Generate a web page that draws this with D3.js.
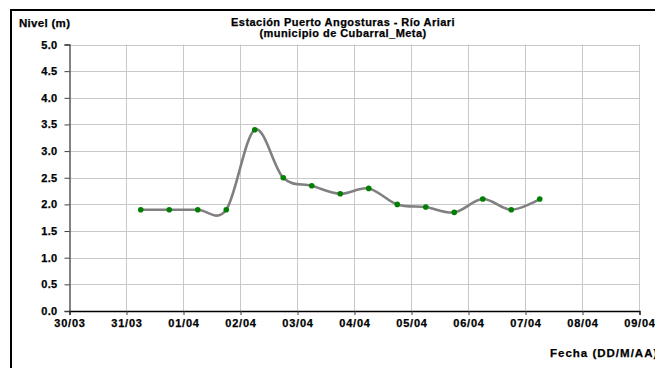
<!DOCTYPE html>
<html><head><meta charset="utf-8">
<script src="https://cdn.jsdelivr.net/npm/d3@7"></script>
<style>
html,body{margin:0;padding:0;background:#fff;overflow:hidden;}
svg{display:block;font-family:"Liberation Sans",Arial,sans-serif;font-weight:bold;}
svg text{stroke:#000;stroke-width:0.25px;}
</style></head><body>
<svg id="c" width="655" height="368"></svg>
<script>
const titleLines = ["Estación Puerto Angosturas - Río Ariari", "(municipio de Cubarral_Meta)"];
const yTitle = "Nivel (m)";
const xTitle = "Fecha (DD/M/AA)";
const xTickLabels = ["30/03","31/03","01/04","02/04","03/04","04/04","05/04","06/04","07/04","08/04","09/04"];
const yTicks = [0,0.5,1,1.5,2,2.5,3,3.5,4,4.5,5];
const times = ["2011-03-31 06:00","2011-03-31 18:00","2011-04-01 06:00","2011-04-01 18:00","2011-04-02 06:00","2011-04-02 18:00","2011-04-03 06:00","2011-04-03 18:00","2011-04-04 06:00","2011-04-04 18:00","2011-04-05 06:00","2011-04-05 18:00","2011-04-06 06:00","2011-04-06 18:00","2011-04-07 06:00"];
const levels = [1.9,1.9,1.9,1.9,3.4,2.5,2.35,2.2,2.3,2.0,1.95,1.85,2.1,1.9,2.1];
const xStart = "2011-03-30 00:00", xEnd = "2011-04-09 00:00";

const parse = d3.timeParse("%Y-%m-%d %H:%M");
const svg = d3.select("#c");
const L = 69.5, R = 639.5, T = 44.5, B = 311;
const x = d3.scaleTime().domain([parse(xStart), parse(xEnd)]).range([L, R]);
const y = d3.scaleLinear().domain([0,5]).range([B, T]);
const tickDates = d3.timeDay.range(parse(xStart), d3.timeDay.offset(parse(xEnd),1));

// outer frame
svg.append("rect").attr("x",11).attr("y",10).attr("width",700).attr("height",400)
  .attr("fill","none").attr("stroke","#000").attr("stroke-width",2);

// grid
const g = svg.append("g");
g.selectAll(".hg").data(yTicks.slice(1)).join("line")
  .attr("x1",L).attr("x2",R).attr("y1",d=>Math.round(y(d))+0.5).attr("y2",d=>Math.round(y(d))+0.5)
  .attr("stroke","#c8c8c8").attr("stroke-width",1);
g.selectAll(".vg").data(tickDates.slice(1)).join("line")
  .attr("x1",d=>x(d)).attr("x2",d=>x(d)).attr("y1",T).attr("y2",B)
  .attr("stroke","#c8c8c8").attr("stroke-width",1);

// y axis
const ya = svg.append("g").attr("transform",`translate(${L},0)`)
  .call(d3.axisLeft(y).tickValues(yTicks).tickFormat(d3.format(".1f")).tickSize(5).tickPadding(7));
ya.select(".domain").attr("stroke","#404040").attr("stroke-width",1.3);
ya.selectAll(".tick line").attr("stroke","#404040");
ya.selectAll("text").attr("font-size",11).attr("font-family","Liberation Sans, Arial").attr("font-weight","bold")
  .attr("letter-spacing","0.3px").attr("fill","#000");

// x axis
const xa = svg.append("g").attr("transform",`translate(0,${B})`)
  .call(d3.axisBottom(x).tickValues(tickDates).tickFormat((d,i)=>xTickLabels[i]).tickSize(4).tickPadding(4));
xa.select(".domain").attr("stroke","#000").attr("stroke-width",1.3);
xa.selectAll(".tick line").attr("stroke","#404040");
xa.selectAll("text").attr("font-size",11).attr("font-family","Liberation Sans, Arial").attr("font-weight","bold")
  .attr("letter-spacing","0.8px").attr("fill","#000");

// line
const pts = times.map((t,i)=>({t:parse(t), v:levels[i]}));
svg.append("path").datum(pts)
  .attr("d", d3.line().x(d=>x(d.t)).y(d=>y(d.v)).curve(d3.curveCardinal.tension(0)))
  .attr("fill","none").attr("stroke","#808080").attr("stroke-width",2.6);
svg.selectAll(".pt").data(pts).join("circle")
  .attr("cx",d=>x(d.t)).attr("cy",d=>y(d.v)).attr("r",2.8).attr("fill","#008000");

// titles
const tt = svg.append("text").attr("text-anchor","middle").attr("font-size",11).attr("letter-spacing","0.45px");
tt.append("tspan").attr("x",343).attr("y",26).text(titleLines[0]);
tt.append("tspan").attr("x",343).attr("y",37).text(titleLines[1]);
svg.append("text").attr("x",19).attr("y",27).attr("font-size",11.5).attr("letter-spacing","0.3px").text(yTitle);
svg.append("text").attr("x",550).attr("y",357).attr("font-size",11.5).attr("letter-spacing","1px").text(xTitle);
</script></body></html>
